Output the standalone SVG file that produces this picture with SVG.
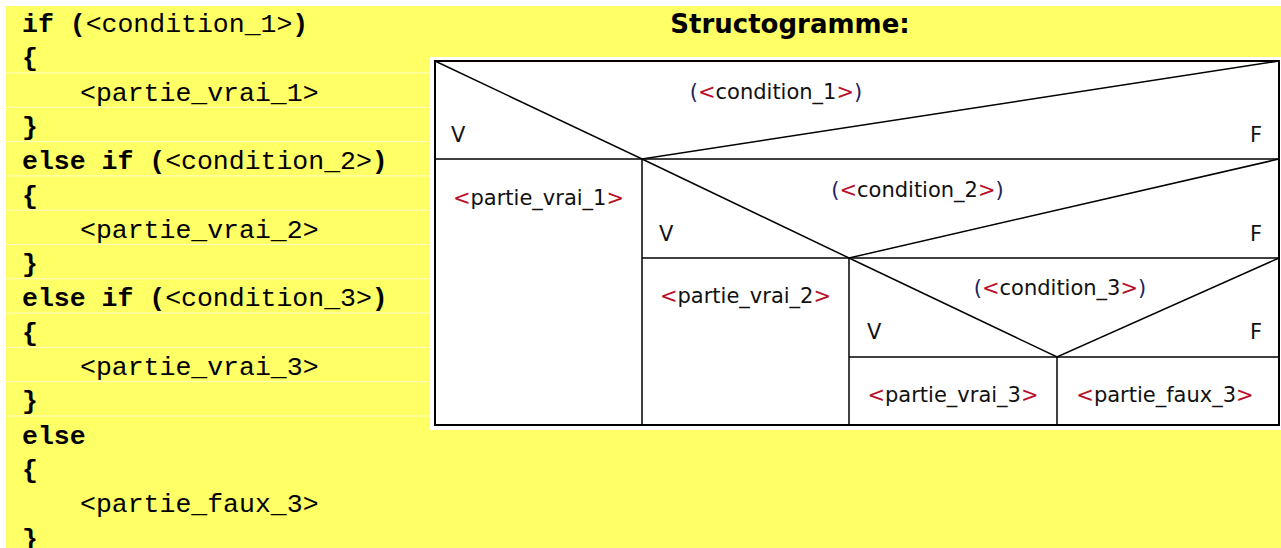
<svg xmlns="http://www.w3.org/2000/svg" width="1281" height="548" viewBox="0 0 1281 548">
  <style>
    .code { font-family: "Liberation Mono", "Courier New", monospace; font-size: 26.5px; fill: #000; }
    .kw { font-weight: bold; }
    .title { font-family: "DejaVu Sans", Verdana, sans-serif; font-size: 26px; font-weight: bold; fill: #000; }
    .lbl { font-family: "DejaVu Sans", "Lucida Grande", sans-serif; font-size: 21px; fill: #111; }
    .par { fill: #23235e; }
    .ang { fill: #b8102a; }
    .sep { stroke: #ffffc8; stroke-width: 1; }
    .ln { stroke: #000; stroke-width: 1.5; fill: none; }
    .frame { stroke: #000; stroke-width: 2; fill: none; }
  </style>

  <!-- page background -->
  <rect x="0" y="0" width="1281" height="548" fill="#ffffff"/>
  <rect x="6" y="6" width="1275" height="542" fill="#ffff66"/>

  <!-- row separators of the code listing -->
  <g id="code-rows">
    <line class="sep" x1="6" y1="73" x2="430" y2="73"/>
    <line class="sep" x1="6" y1="107.3" x2="430" y2="107.3"/>
    <line class="sep" x1="6" y1="141.6" x2="430" y2="141.6"/>
    <line class="sep" x1="6" y1="175.9" x2="430" y2="175.9"/>
    <line class="sep" x1="6" y1="210.2" x2="430" y2="210.2"/>
    <line class="sep" x1="6" y1="244.5" x2="430" y2="244.5"/>
    <line class="sep" x1="6" y1="278.8" x2="430" y2="278.8"/>
    <line class="sep" x1="6" y1="313.1" x2="430" y2="313.1"/>
    <line class="sep" x1="6" y1="347.4" x2="430" y2="347.4"/>
    <line class="sep" x1="6" y1="381.7" x2="430" y2="381.7"/>
    <line class="sep" x1="6" y1="416" x2="430" y2="416"/>
  </g>

  <!-- code listing -->
  <g id="code">
    <text class="code" x="22" y="32"><tspan class="kw">if (</tspan>&lt;condition_1&gt;<tspan class="kw">)</tspan></text>
    <text class="code kw" x="22" y="66.3">{</text>
    <text class="code" x="80" y="100.6">&lt;partie_vrai_1&gt;</text>
    <text class="code kw" x="22" y="134.9">}</text>
    <text class="code" x="22" y="169.2"><tspan class="kw">else if (</tspan>&lt;condition_2&gt;<tspan class="kw">)</tspan></text>
    <text class="code kw" x="22" y="203.5">{</text>
    <text class="code" x="80" y="237.8">&lt;partie_vrai_2&gt;</text>
    <text class="code kw" x="22" y="272.1">}</text>
    <text class="code" x="22" y="306.4"><tspan class="kw">else if (</tspan>&lt;condition_3&gt;<tspan class="kw">)</tspan></text>
    <text class="code kw" x="22" y="340.7">{</text>
    <text class="code" x="80" y="375">&lt;partie_vrai_3&gt;</text>
    <text class="code kw" x="22" y="409.3">}</text>
    <text class="code kw" x="22" y="443.6">else</text>
    <text class="code kw" x="22" y="477.9">{</text>
    <text class="code" x="80" y="512.2">&lt;partie_faux_3&gt;</text>
    <text class="code kw" x="22" y="546.5">}</text>
  </g>

  <text class="title" x="790" y="33" text-anchor="middle">Structogramme:</text>

  <!-- structogram panel -->
  <rect x="430" y="57" width="851" height="373" fill="#ffffff"/>

  <g id="cond1">
    <line class="ln" x1="435" y1="159" x2="1279" y2="159"/>
    <polyline class="ln" points="435,61 642,159 1279,61"/>
    <text class="lbl" x="776" y="99" text-anchor="middle"><tspan class="par">(</tspan><tspan class="ang">&lt;</tspan>condition_1<tspan class="ang">&gt;</tspan><tspan class="par">)</tspan></text>
    <text class="lbl" x="451" y="141.5">V</text>
    <text class="lbl" x="1250" y="141.5">F</text>
  </g>

  <g id="vrai1">
    <line class="ln" x1="642" y1="159" x2="642" y2="425"/>
    <text class="lbl" x="538.5" y="205" text-anchor="middle"><tspan class="ang">&lt;</tspan>partie_vrai_1<tspan class="ang">&gt;</tspan></text>
  </g>

  <g id="cond2">
    <line class="ln" x1="642" y1="258" x2="1279" y2="258"/>
    <polyline class="ln" points="642,159 849,258 1279,159"/>
    <text class="lbl" x="917.5" y="197" text-anchor="middle"><tspan class="par">(</tspan><tspan class="ang">&lt;</tspan>condition_2<tspan class="ang">&gt;</tspan><tspan class="par">)</tspan></text>
    <text class="lbl" x="659" y="240.5">V</text>
    <text class="lbl" x="1250" y="240.5">F</text>
  </g>

  <g id="vrai2">
    <line class="ln" x1="849" y1="258" x2="849" y2="425"/>
    <text class="lbl" x="745.5" y="303" text-anchor="middle"><tspan class="ang">&lt;</tspan>partie_vrai_2<tspan class="ang">&gt;</tspan></text>
  </g>

  <g id="cond3">
    <line class="ln" x1="849" y1="357" x2="1279" y2="357"/>
    <polyline class="ln" points="849,258 1057,357 1279,258"/>
    <text class="lbl" x="1060" y="295" text-anchor="middle"><tspan class="par">(</tspan><tspan class="ang">&lt;</tspan>condition_3<tspan class="ang">&gt;</tspan><tspan class="par">)</tspan></text>
    <text class="lbl" x="867" y="339">V</text>
    <text class="lbl" x="1250" y="339">F</text>
  </g>

  <g id="vrai3">
    <line class="ln" x1="1057" y1="357" x2="1057" y2="425"/>
    <text class="lbl" x="953" y="402" text-anchor="middle"><tspan class="ang">&lt;</tspan>partie_vrai_3<tspan class="ang">&gt;</tspan></text>
  </g>

  <g id="faux3">
    <text class="lbl" x="1165" y="402" text-anchor="middle"><tspan class="ang">&lt;</tspan>partie_faux_3<tspan class="ang">&gt;</tspan></text>
  </g>

  <!-- outer frame of the structogram -->
  <rect class="frame" x="435" y="61" width="844" height="364"/>
</svg>
